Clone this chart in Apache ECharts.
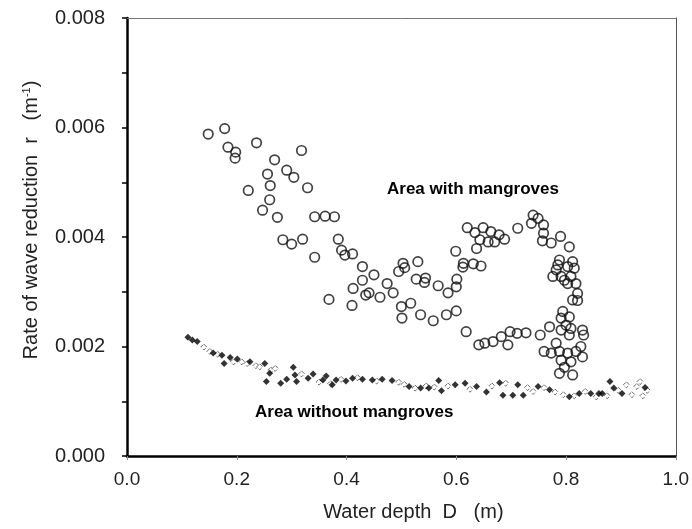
<!DOCTYPE html>
<html>
<head>
<meta charset="utf-8">
<script src="https://cdn.jsdelivr.net/npm/echarts@6/dist/echarts.min.js"></script>
<style>
  html, body { margin: 0; padding: 0; background: #fff; }
  #main { width: 692px; height: 529px; }
</style>
</head>
<body>
<div id="main"></div>
<script>
// area with mangroves (open circles)
var withX = [0.148,0.178,0.184,0.198,0.197,0.236,0.318,0.269,0.256,0.291,0.304,0.261,0.221,0.329,0.260,0.247,0.274,0.342,0.361,0.378,
  0.284,0.300,0.320,0.342,0.385,0.391,0.397,0.411,0.429,0.368,0.410,0.412,0.429,0.435,0.450,0.441,0.461,0.474,0.485,0.495,
  0.503,0.506,0.530,0.527,0.544,0.542,0.567,0.585,0.600,0.601,0.599,0.612,0.613,0.631,0.645,0.500,0.517,0.501,0.535,0.558,
  0.582,0.600,0.618,0.620,0.649,0.634,0.663,0.643,0.658,0.670,0.678,0.688,0.637,0.712,0.740,0.749,0.737,0.759,0.759,0.757,
  0.773,0.790,0.806,0.788,0.785,0.782,0.776,0.791,0.803,0.812,0.815,0.797,0.809,0.818,0.803,0.821,0.812,0.821,0.794,0.806,
  0.791,0.800,0.809,0.791,0.770,0.753,0.830,0.832,0.806,0.782,0.760,0.773,0.788,0.803,0.818,0.827,0.830,0.791,0.809,0.641,
  0.652,0.667,0.682,0.698,0.711,0.727,0.694,0.788,0.812,0.797];
var withY = [0.00588,0.00598,0.00564,0.00555,0.00544,0.00572,0.00558,0.00541,0.00515,0.00522,0.00509,0.00494,0.00485,0.00490,0.00468,0.00449,0.00436,0.00437,0.00438,0.00437,
  0.00395,0.00387,0.00396,0.00363,0.00396,0.00376,0.00367,0.00369,0.00346,0.00286,0.00275,0.00306,0.00321,0.00294,0.00331,0.00298,0.00290,0.00315,0.00298,0.00337,
  0.00352,0.00344,0.00355,0.00323,0.00325,0.00317,0.00311,0.00298,0.00309,0.00323,0.00374,0.00345,0.00352,0.00351,0.00347,0.00273,0.00279,0.00252,0.00258,0.00247,
  0.00258,0.00265,0.00227,0.00417,0.00417,0.00408,0.00410,0.00395,0.00391,0.00391,0.00404,0.00396,0.00379,0.00416,0.00440,0.00434,0.00425,0.00422,0.00407,0.00393,
  0.00389,0.00401,0.00382,0.00358,0.00349,0.00340,0.00328,0.00328,0.00346,0.00355,0.00343,0.00321,0.00328,0.00315,0.00315,0.00297,0.00285,0.00284,0.00264,0.00254,
  0.00252,0.00239,0.00233,0.00230,0.00236,0.00221,0.00230,0.00221,0.00221,0.00206,0.00191,0.00188,0.00191,0.00188,0.00191,0.00200,0.00181,0.00175,0.00172,0.00203,
  0.00206,0.00209,0.00218,0.00227,0.00224,0.00225,0.00203,0.00151,0.00148,0.00162];

// area without mangroves, solid diamonds
var withoutX = [0.111,0.119,0.128,0.157,0.173,0.177,0.188,0.201,0.224,0.251,0.254,0.260,0.280,0.291,0.303,0.306,0.309,0.330,0.339,0.357,
  0.363,0.374,0.381,0.399,0.411,0.429,0.447,0.465,0.483,0.514,0.535,0.550,0.568,0.573,0.598,0.616,0.637,0.655,0.679,0.685,
  0.703,0.722,0.712,0.749,0.770,0.806,0.824,0.845,0.860,0.880,0.887,0.902,0.944,0.866];
var withoutY = [0.00217,0.00212,0.00209,0.00188,0.00184,0.00169,0.00180,0.00177,0.00172,0.00169,0.00136,0.00151,0.00133,0.00140,0.00162,0.00148,0.00136,0.00142,0.00150,0.00139,
  0.00146,0.00130,0.00139,0.00137,0.00142,0.00140,0.00139,0.00140,0.00138,0.00127,0.00124,0.00124,0.00138,0.00119,0.00130,0.00133,0.00127,0.00117,0.00134,0.00111,
  0.00111,0.00111,0.00130,0.00127,0.00121,0.00108,0.00114,0.00114,0.00114,0.00136,0.00124,0.00114,0.00125,0.00114];

// faint open marks in the same band
var faintX = [0.140,0.151,0.165,0.194,0.209,0.219,0.235,0.242,0.262,0.270,0.318,0.350,0.371,0.390,0.420,0.455,0.495,0.505,0.525,0.545,
  0.560,0.585,0.625,0.665,0.690,0.730,0.740,0.760,0.780,0.795,0.815,0.835,0.855,0.875,0.895,0.910,0.920,0.929,0.935,0.940,0.948];
var faintY = [0.00199,0.00191,0.00186,0.00172,0.00172,0.00169,0.00165,0.00163,0.00157,0.00160,0.00150,0.00135,0.00132,0.00140,0.00143,0.00137,0.00135,0.00131,0.00124,0.00128,
  0.00126,0.00128,0.00122,0.00128,0.00133,0.00125,0.00118,0.00125,0.00117,0.00112,0.00110,0.00118,0.00108,0.00110,0.00120,0.00130,0.00112,0.00127,0.00136,0.00110,0.00120];

var xTicks = [0, 0.2, 0.4, 0.6, 0.8, 1.0];
var yTicks = [0, 0.002, 0.004, 0.006, 0.008];

function zip(a, b) {
  var out = [];
  for (var i = 0; i < a.length; i++) out.push([a[i], b[i]]);
  return out;
}

var font = '"Liberation Sans", Arial, sans-serif';
var chart = echarts.init(document.getElementById('main'));
var option = {
  animation: false,
  backgroundColor: '#fff',
  textStyle: { fontFamily: font },
  grid: { left: 127, right: 13, top: 18, bottom: 73 },
  xAxis: [{
    type: 'value',
    min: xTicks[0], max: xTicks[xTicks.length - 1], interval: 0.2,
    name: 'Water depth  D   (m)',
    nameLocation: 'middle', nameGap: 46,
    nameTextStyle: { fontSize: 20, color: '#222', fontFamily: font, padding: [0, 0, 0, 24] },
    axisLine: { lineStyle: { color: '#000', width: 2.5 } },
    axisTick: { show: true, inside: false, length: 4, lineStyle: { color: '#888', width: 1 } },
    axisLabel: { fontSize: 19, color: '#222', margin: 14, formatter: function (v) { return v.toFixed(1); } },
    splitLine: { show: false }
  }, {
    type: 'value', position: 'top', min: 0, max: 1,
    axisLine: { show: true, onZero: false, lineStyle: { color: '#777', width: 1 } },
    axisTick: { show: false }, axisLabel: { show: false }, splitLine: { show: false }
  }],
  yAxis: [{
    type: 'value',
    min: yTicks[0], max: yTicks[yTicks.length - 1], interval: 0.002,
    name: '{t|Rate of wave reduction  r   (m}{s|-1}{t|)}',
    nameLocation: 'middle', nameGap: 86, nameRotate: 90,
    nameTextStyle: {
      padding: [0, 0, 0, 34],
      rich: {
        t: { fontSize: 20, color: '#222', fontFamily: font },
        s: { fontSize: 11, color: '#222', fontFamily: font, verticalAlign: 'top', padding: [0, 0, 9, 0] }
      }
    },
    axisLine: { lineStyle: { color: '#000', width: 2.5 } },
    axisTick: { show: true, inside: false, length: 5, lineStyle: { color: '#000', width: 1.5 } },
    minorTick: { show: true, splitNumber: 2, length: 5, lineStyle: { color: '#000', width: 1.5 } },
    axisLabel: { fontSize: 20, color: '#222', margin: 22, formatter: function (v) { return v.toFixed(3); } },
    splitLine: { show: false }
  }, {
    type: 'value', position: 'right', min: 0, max: 0.008,
    axisLine: { show: true, onZero: false, lineStyle: { color: '#555', width: 1 } },
    axisTick: { show: false }, axisLabel: { show: false }, splitLine: { show: false }
  }],
  series: [{
    name: 'Area without mangroves (faint)',
    type: 'scatter',
    symbol: 'diamond', symbolSize: 6,
    itemStyle: { color: '#fff', borderColor: '#444', borderWidth: 1, borderType: 'dashed' },
    data: zip(faintX, faintY)
  }, {
    name: 'Area without mangroves',
    type: 'scatter',
    symbol: 'diamond', symbolSize: 7,
    itemStyle: { color: '#000' },
    data: zip(withoutX, withoutY)
  }, {
    name: 'Area with mangroves',
    type: 'scatter',
    symbol: 'circle', symbolSize: 9.5,
    itemStyle: { color: 'rgba(255,255,255,0)', borderColor: '#111', borderWidth: 1.7 },
    data: zip(withX, withY)
  }],
  graphic: [{
    type: 'text', left: 387, top: 181,
    style: { text: 'Area with mangroves', font: 'bold 17px ' + font, fill: '#000' }
  }, {
    type: 'text', left: 255, top: 404,
    style: { text: 'Area without mangroves', font: 'bold 17px ' + font, fill: '#000' }
  }]
};
chart.setOption(option);
</script>
</body>
</html>
